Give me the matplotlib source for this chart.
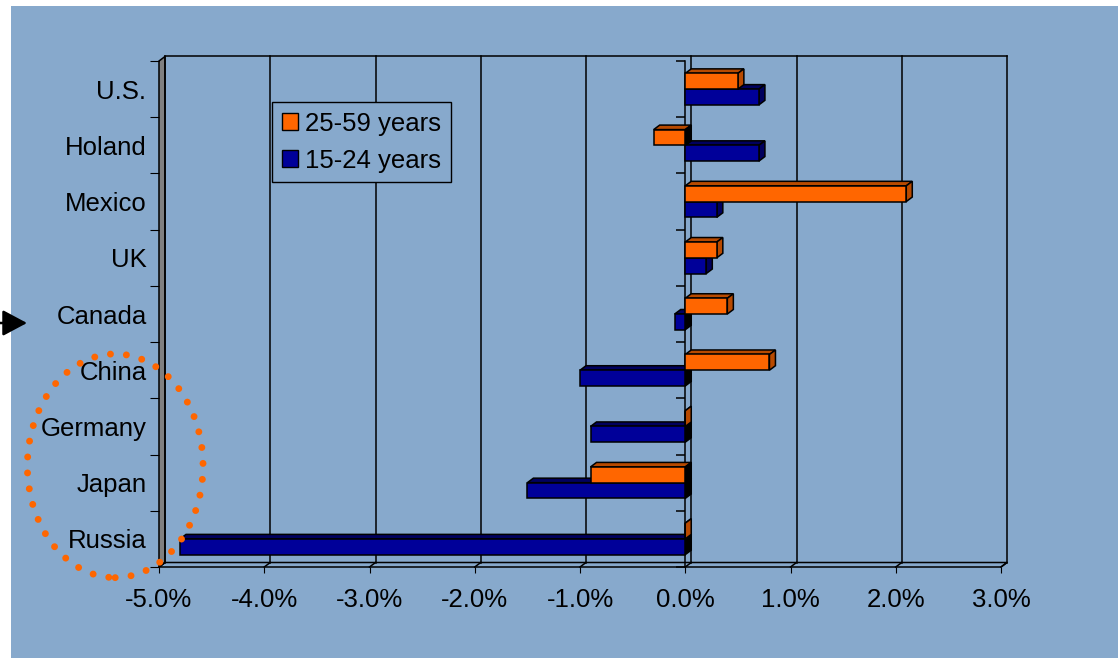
import numpy as np
import matplotlib
matplotlib.use("Agg")
import matplotlib.pyplot as plt
from matplotlib.patches import Polygon, Rectangle, Ellipse, Patch
import matplotlib.lines as mlines

# ---------------- data ----------------
countries = ["U.S.", "Holand", "Mexico", "UK", "Canada", "China", "Germany", "Japan", "Russia"]
age_25_59 = [0.5, -0.3, 2.1, 0.3, 0.4, 0.8, 0.0, -0.9, 0.0]
age_15_24 = [0.7, 0.7, 0.3, 0.2, -0.1, -1.0, -0.9, -1.5, -4.8]
series_labels = ["25-59 years", "15-24 years"]
xtick_values = [-5, -4, -3, -2, -1, 0, 1, 2, 3]
xtick_labels = ["-5.0%", "-4.0%", "-3.0%", "-2.0%", "-1.0%", "0.0%", "1.0%", "2.0%", "3.0%"]

# ---------------- style ----------------
W, H = 1118, 658
BG = "#87A9CC"
ORANGE, ORANGE_D = "#FF6600", "#B84A00"
BLUE, BLUE_D = "#000099", "#00005E"
WALL = "#808080"
FONT = "Liberation Sans"
FS = 18.5
DEPTH_PX = (6.0, 4.5)
BAR_H = 0.28

plt.rcParams["font.family"] = [FONT, "DejaVu Sans"]

fig = plt.figure(figsize=(W / 100, H / 100), dpi=100, facecolor="white")
fig.add_artist(Rectangle((11 / W, 0), 1 - 11 / W, 1 - 6 / H, transform=fig.transFigure,
                         facecolor=BG, edgecolor="none", zorder=-10))

ax = fig.add_axes([159 / W, 91 / H, 842 / W, 506 / H])
ax.patch.set_visible(False)
xmin, xmax = xtick_values[0], xtick_values[-1]
n = len(countries)
ax.set_xlim(xmin, xmax)
ax.set_ylim(n - 0.5, -0.5)
for s in ax.spines.values():
    s.set_visible(False)

# depth in data units
ax_w_px = 842.0
ax_h_px = 506.0
dx = DEPTH_PX[0] * (xmax - xmin) / ax_w_px
dy = DEPTH_PX[1] * n / ax_h_px  # upward on screen == smaller index

top_y, bot_y = -0.5, n - 0.5
lw = 1.1

# left wall
ax.add_patch(Polygon([(xmin, top_y), (xmin, bot_y), (xmin + dx, bot_y - dy), (xmin + dx, top_y - dy)],
                     closed=True, facecolor=WALL, edgecolor="black", lw=lw, clip_on=False, zorder=1))
# floor
ax.add_patch(Polygon([(xmin, bot_y), (xmax, bot_y), (xmax + dx, bot_y - dy), (xmin + dx, bot_y - dy)],
                     closed=True, facecolor="none", edgecolor="black", lw=lw, clip_on=False, zorder=1))
# back wall grid lines + top edge
for xv in xtick_values:
    ax.plot([xv + dx, xv + dx], [top_y - dy, bot_y - dy], color="black", lw=lw, clip_on=False, zorder=1)
    ax.plot([xv, xv + dx], [bot_y, bot_y - dy], color="black", lw=lw, clip_on=False, zorder=1)
ax.plot([xmin + dx, xmax + dx], [top_y - dy, top_y - dy], color="black", lw=lw, clip_on=False, zorder=1)

# front category axis at zero
ax.plot([0, 0], [top_y, bot_y], color="black", lw=lw, clip_on=False, zorder=2)
bounds = np.arange(n + 1) - 0.5
ax.plot(np.zeros(n + 1), bounds, ls="none", marker=mlines.TICKLEFT, ms=6.5, mew=lw,
        color="black", clip_on=False, zorder=2)

# ---------------- 3D bars ----------------
def bar3d(y_center, value, face, dark, z):
    x0, x1 = min(0, value), max(0, value)
    t = y_center - BAR_H / 2
    b = y_center + BAR_H / 2
    ax.add_patch(Polygon([(x0, t), (x1, t), (x1 + dx, t - dy), (x0 + dx, t - dy)], closed=True,
                         facecolor=dark, edgecolor="black", lw=lw, zorder=z, clip_on=False))
    side_col = "black" if value < 0 else dark
    ax.add_patch(Polygon([(x1, t), (x1, b), (x1 + dx, b - dy), (x1 + dx, t - dy)], closed=True,
                         facecolor=side_col, edgecolor="black", lw=lw, zorder=z, clip_on=False))
    ax.barh([y_center], [value], left=0, height=BAR_H, color=face, edgecolor="black",
            linewidth=lw, zorder=z + 0.1, clip_on=False)

for i in range(n):
    bar3d(i + BAR_H / 2, age_15_24[i], BLUE, BLUE_D, 3 + i * 0.5)
    bar3d(i - BAR_H / 2, age_25_59[i], ORANGE, ORANGE_D, 3.2 + i * 0.5)

# ---------------- axes ticks ----------------
ax.set_xticks(xtick_values)
ax.set_xticklabels(xtick_labels, fontsize=FS)
ax.tick_params(axis="x", direction="out", length=4.5, width=lw * 0.72, pad=10.5, colors="black")
ax.set_yticks(range(n))
ax.set_yticklabels(countries, fontsize=FS)
ax.set_yticks(bounds, minor=True)
ax.tick_params(axis="y", which="major", length=0, pad=9)
ax.tick_params(axis="y", which="minor", direction="out", length=6.5, width=lw * 0.72)

# legend
handles = [Patch(facecolor=ORANGE, edgecolor="black", lw=1), Patch(facecolor=BLUE, edgecolor="black", lw=1)]
leg = ax.legend(handles, series_labels, loc="upper left", bbox_to_anchor=(272 / W, 1 - 102 / H),
                bbox_transform=fig.transFigure, borderaxespad=0, frameon=True, fancybox=False,
                edgecolor="black", facecolor=BG, framealpha=1, fontsize=FS, handlelength=0.62,
                handleheight=0.62, handletextpad=0.3, labelspacing=0.5, borderpad=0.38)
leg.get_frame().set_linewidth(1.0)
leg.set_zorder(20)

# decorations: arrow and dotted ellipse
ax.annotate("", xy=(27 / W, 1 - 323 / H), xytext=(0, 1 - 323 / H), xycoords="figure fraction",
            textcoords="figure fraction", annotation_clip=False,
            arrowprops=dict(arrowstyle="-|>,head_length=0.75,head_width=0.4", color="black",
                            lw=1.8, mutation_scale=20, shrinkA=0, shrinkB=0))
ell = Ellipse((115.2 / W, 1 - 465.8 / H), 175.7 / W, 223.7 / H, transform=fig.transFigure,
              fill=False, edgecolor=ORANGE, lw=5.0, linestyle=(0, (0.001, 2.3)), zorder=30)
ell.set_capstyle("round")
fig.add_artist(ell)

fig.savefig("out.png", dpi=100, facecolor="white")
